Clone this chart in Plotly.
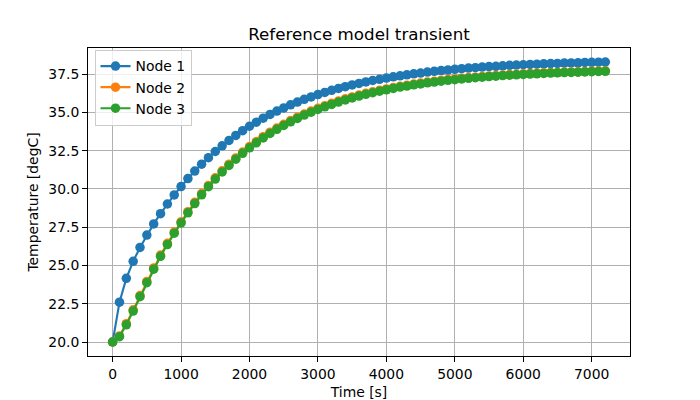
import plotly.graph_objects as go

time_s = list(range(0, 7300, 100))

node1 = [20.00, 22.60, 24.16, 25.27, 26.18, 26.99, 27.72, 28.39, 29.02, 29.61,
         30.16, 30.68, 31.17, 31.62, 32.05, 32.45, 32.82, 33.17, 33.50, 33.81,
         34.10, 34.37, 34.63, 34.87, 35.09, 35.30, 35.50, 35.68, 35.86, 36.02,
         36.17, 36.31, 36.45, 36.57, 36.69, 36.80, 36.90, 37.00, 37.09, 37.17,
         37.25, 37.33, 37.40, 37.46, 37.53, 37.58, 37.64, 37.69, 37.74, 37.78,
         37.82, 37.86, 37.90, 37.93, 37.97, 38.00, 38.02, 38.05, 38.08, 38.10,
         38.12, 38.14, 38.16, 38.18, 38.20, 38.21, 38.23, 38.24, 38.25, 38.27,
         38.28, 38.29, 38.30]

node2 = [20.00, 20.40, 21.20, 22.10, 23.04, 23.96, 24.84, 25.68, 26.45, 27.19,
         27.86, 28.52, 29.13, 29.70, 30.23, 30.73, 31.19, 31.62, 32.03, 32.41,
         32.77, 33.10, 33.42, 33.71, 33.98, 34.23, 34.47, 34.69, 34.90, 35.09,
         35.27, 35.44, 35.60, 35.75, 35.89, 36.02, 36.14, 36.25, 36.35, 36.45,
         36.54, 36.63, 36.71, 36.78, 36.86, 36.92, 36.99, 37.04, 37.10, 37.15,
         37.19, 37.24, 37.28, 37.31, 37.35, 37.39, 37.41, 37.45, 37.48, 37.50,
         37.53, 37.55, 37.57, 37.59, 37.61, 37.62, 37.64, 37.65, 37.66, 37.68,
         37.70, 37.71, 37.72]

node3 = [20.00, 20.35, 21.12, 22.02, 22.96, 23.88, 24.76, 25.60, 26.37, 27.11,
         27.78, 28.44, 29.05, 29.62, 30.15, 30.65, 31.11, 31.54, 31.95, 32.33,
         32.69, 33.02, 33.34, 33.63, 33.90, 34.15, 34.39, 34.61, 34.83, 35.02,
         35.20, 35.37, 35.53, 35.68, 35.82, 35.95, 36.07, 36.19, 36.29, 36.39,
         36.48, 36.57, 36.66, 36.73, 36.81, 36.87, 36.94, 36.99, 37.05, 37.10,
         37.14, 37.19, 37.23, 37.27, 37.31, 37.35, 37.37, 37.41, 37.44, 37.46,
         37.49, 37.51, 37.53, 37.55, 37.58, 37.59, 37.61, 37.62, 37.63, 37.65,
         37.67, 37.68, 37.69]

series_names = ["Node 1", "Node 2", "Node 3"]
series_colors = ["#1f77b4", "#ff7f0e", "#2ca02c"]

x_ticks = [0, 1000, 2000, 3000, 4000, 5000, 6000, 7000]
y_ticks = [20.0, 22.5, 25.0, 27.5, 30.0, 32.5, 35.0, 37.5]

FONT = "DejaVu Sans"

fig = go.Figure()
for name, vals, col in zip(series_names, [node1, node2, node3], series_colors):
    fig.add_trace(go.Scatter(
        x=time_s, y=vals, name=name, mode="lines+markers",
        line=dict(color=col, width=2.1),
        marker=dict(color=col, size=9.5, line=dict(width=0)),
    ))

axis_common = dict(
    showline=True, linecolor="black", linewidth=1.1, mirror=True,
    ticks="outside", ticklen=4.9, tickwidth=1.1, tickcolor="black",
    showgrid=True, gridcolor="#b0b0b0", gridwidth=1.1,
    zeroline=False, automargin=False,
    tickfont=dict(family=FONT, size=13.9, color="black"),
)

fig.update_layout(
    width=700, height=400,
    margin=dict(l=88, r=70, t=48, b=44),
    paper_bgcolor="white", plot_bgcolor="white",
    font=dict(family=FONT, color="black"),
    title=dict(text="Reference model transient", x=0.5, xref="paper",
               y=1 - 34 / 400, yref="container", xanchor="center", yanchor="middle",
               font=dict(family=FONT, size=16.7, color="black")),
    xaxis=dict(axis_common, range=[-360, 7560], tickvals=x_ticks,
               ticktext=[str(v) for v in x_ticks],
               title=dict(text="Time [s]", standoff=6,
                          font=dict(family=FONT, size=13.9, color="black"))),
    yaxis=dict(axis_common, range=[19.085, 39.215], tickvals=y_ticks,
               ticktext=[f"{v:.1f}" for v in y_ticks],
               title=dict(text="Temperature [degC]", standoff=6,
                          font=dict(family=FONT, size=13.9, color="black"))),
    legend=dict(x=0.012, y=0.995, xanchor="left", yanchor="top",
                bgcolor="rgba(255,255,255,0.8)", bordercolor="#cccccc", borderwidth=1,
                font=dict(family=FONT, size=13.9, color="black"),
                tracegroupgap=0, itemwidth=30),
    showlegend=True,
)

fig.write_html("out.html")
